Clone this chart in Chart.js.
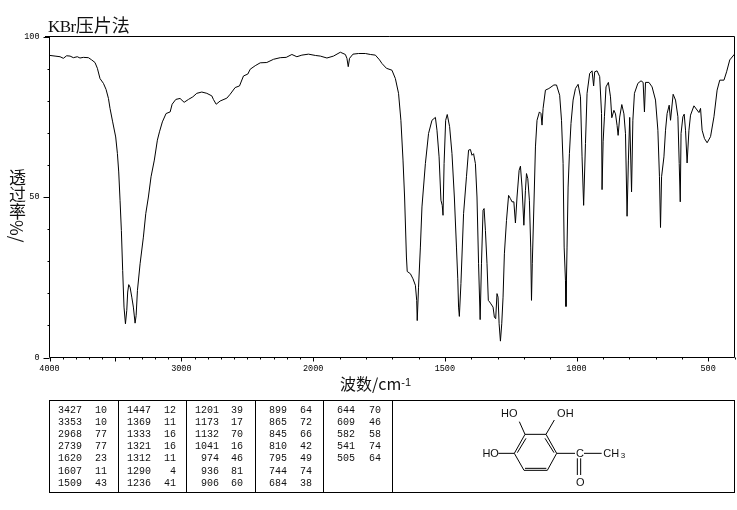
<!DOCTYPE html>
<html><head><meta charset="utf-8">
<script src="https://cdn.jsdelivr.net/npm/chart.js@4"></script>
<style>
html,body{margin:0;padding:0;background:#fff;overflow:hidden}
#wrap{position:relative;width:737px;height:510px}
canvas{position:absolute;left:0;top:0}
svg{position:absolute;left:0;top:0}
.t{position:absolute;color:#111;white-space:nowrap;line-height:1;font-family:"Liberation Serif","Noto Sans CJK SC",serif}
</style></head><body>
<div id="wrap">
<canvas id="c" width="737" height="510"></canvas>
<div class="t" style="left:48px;top:15px;font-size:17px;letter-spacing:-.5px">KBr<span style="font-size:18px;letter-spacing:0;font-family:'Noto Sans CJK SC'">压片法</span></div>
<div class="t" style="left:340px;top:375px;font-size:16px;font-family:'Noto Sans CJK SC'">波数/cm<span style="font-size:11px;position:relative;top:-4px;font-family:'Liberation Sans'">-1</span></div>
<div class="t" style="left:9px;top:169px;font-size:17px;writing-mode:vertical-rl;font-family:'Noto Sans CJK SC'">透过率%/</div>
<svg id="s" width="737" height="510"></svg>
</div>
<script>
const wavenumbers=[3996,3958,3920,3895,3870,3844,3819,3789,3769,3743,3705,3680,3655,3637,3617,3591,3571,3553,3541,3521,3498,3485,3475,3465,3455,3445,3435,3424,3414,3407,3399,3389,3376,3364,3351,3343,3333,3313,3288,3270,3250,3230,3205,3182,3166,3144,3116,3085,3070,3042,3010,2979,2946,2913,2883,2845,2807,2769,2757,2736,2706,2655,2630,2592,2559,2529,2496,2478,2440,2402,2352,2301,2250,2205,2162,2124,2086,2036,1992,1973,1948,1923,1897,1878,1872,1867,1862,1849,1828,1802,1783,1764,1748,1739,1722,1701,1688,1676,1667,1659,1653,1646,1643,1631,1621,1612,1607,1605,1600,1593,1587,1574,1562,1549,1536,1530,1522,1515,1510,1507,1503,1497,1491,1482,1473,1464,1456,1451,1448,1445,1439,1429,1418,1410,1403,1397,1391,1384,1378,1372,1366,1361,1355,1351,1346,1340,1335,1330,1325,1317,1312,1307,1302,1298,1294,1289,1284,1279,1274,1266,1258,1251,1245,1238,1232,1226,1218,1213,1207,1200,1194,1190,1185,1179,1174,1171,1168,1161,1156,1150,1141,1135,1131,1127,1118,1105,1086,1076,1064,1057,1051,1047,1042,1040,1036,1032,1027,1021,1013,1004,994,985,979,973,966,960,950,941,935,931,922,912,905,903,899,894,888,879,871,866,858,852,846,842,836,828,820,814,808,803,798,791,786,780,767,755,747,742,738,725,713,700,691,685,681,677,668,662,656,648,643,633,624,615,610,606,603,596,591,586,580,573,567,554,535,529,523,514,504,491,478,466,456,440,430,418,400];
const transmittance=[94.1,93.9,93.7,93.2,94.0,93.9,93.4,93.7,93.3,93.5,93.4,92.7,91.9,90.1,86.9,85.4,83.5,80.7,77.6,73.4,68.7,63.5,57.8,49.0,39.6,27.1,15.7,10.5,14.7,20.4,22.7,21.9,18.8,15.7,10.7,13.1,20.9,29.2,37.5,44.8,50.0,56.3,61.5,67.7,70.3,73.4,76.0,76.5,78.9,80.4,80.7,79.5,80.4,81.2,82.3,82.7,82.3,81.5,80.4,78.9,79.9,80.8,82.0,84.1,84.6,87.7,88.3,89.8,90.9,91.8,91.9,92.9,93.4,93.5,94.4,93.7,94.2,94.5,94.1,93.9,93.3,93.9,95.1,94.4,93.2,90.6,93.2,94.5,94.7,94.7,94.4,94.2,92.7,91.6,90.1,89.5,86.9,82.3,73.9,61.5,50.0,31.3,26.8,26.1,24.5,22.5,17.8,11.5,21.9,34.4,46.9,60.4,69.8,73.9,74.8,70.8,62.5,49.0,47.4,44.3,60.4,73.9,75.7,71.9,63.5,50.0,34.4,24.5,15.7,12.8,23.0,44.8,56.3,64.6,64.8,63.0,63.5,60.4,50.0,29.2,11.8,29.2,45.9,46.4,39.6,29.2,17.8,17.3,16.7,15.7,12.6,12.1,19.9,18.8,10.5,5.1,10.5,18.8,32.3,42.7,50.5,49.5,48.5,48.5,41.9,50.0,58.3,59.6,53.1,41.2,52.1,57.3,55.7,49.0,34.4,17.8,29.2,50.0,65.6,73.9,76.5,76.0,72.4,77.6,83.3,83.8,84.9,84.9,81.7,73.9,60.4,34.4,24.0,15.9,34.4,53.1,63.5,72.9,80.2,83.8,85.1,81.2,62.5,47.4,66.7,82.3,88.5,89.3,84.6,89.0,89.3,87.5,76.0,52.3,67.2,75.0,84.3,85.7,81.2,74.7,77.0,75.9,72.3,69.2,74.9,78.8,75.9,69.7,44.0,61.5,74.8,51.6,73.9,82.3,85.4,86.2,85.7,76.5,85.7,85.7,84.3,80.2,70.8,56.3,40.5,56.3,62.5,70.8,76.0,78.6,73.9,82.0,80.2,75.0,60.4,48.5,69.8,75.0,75.8,70.8,60.6,70.8,75.5,78.4,76.3,77.6,70.8,68.2,66.9,68.8,75.0,83.3,86.4,86.4,89.0,92.7,94.5];
const xLabelled=[4000,3000,2000,1500,1000,500];
const yLabelled=[0,50,100];
const peakWn=[[3427,3353,2968,2739,1620,1607,1509],[1447,1369,1333,1321,1312,1290,1236],[1201,1173,1132,1041,974,936,906],[899,865,845,810,795,744,684],[644,609,582,541,505]];
const peakT=[[10,10,77,77,23,11,43],[12,11,16,16,11,4,41],[39,17,70,16,46,81,60],[64,72,66,42,49,74,38],[70,46,58,74,64]];

const xTickValues=[];for(let v=4000;v>=400;v-=100)xTickValues.push(v);
const yTickValues=[];for(let v=0;v<=100;v+=10)yTickValues.push(v);
const BREAK=0.385;
class IRScale extends Chart.LinearScale{
  static id='irAxis';
  static defaults=Chart.LinearScale.defaults;
  getPixelForValue(v){
    const W=this.right-this.left;
    return v>=2000?this.left+(4000-v)/2000*BREAK*W:this.left+BREAK*W+(2000-v)/1600*(1-BREAK)*W;
  }
  getValueForPixel(p){
    const W=this.right-this.left,f=(p-this.left)/W;
    return f<=BREAK?4000-f/BREAK*2000:2000-(f-BREAK)/(1-BREAK)*1600;
  }
}
Chart.register(IRScale);
const frame={id:'frame',afterDraw(ch){
  const g=ch.ctx,a=ch.chartArea,X=ch.scales.x,Y=ch.scales.y;
  g.save();g.strokeStyle='#000';g.lineWidth=1;g.beginPath();
  const L=Math.floor(a.left)+.5,B=Math.floor(a.bottom)+.5,T=Math.floor(a.top)+.5,R=Math.floor(a.right)+.5;
  g.moveTo(45,T);g.lineTo(R,T);g.lineTo(R,B);g.lineTo(L,B);g.lineTo(L,T);
  xTickValues.forEach(v=>{const p=Math.round(X.getPixelForValue(v))+.5;const l=(xLabelled.includes(v)||v===3500)?4:2;g.moveTo(p,B);g.lineTo(p,B+l);});
  yTickValues.forEach(v=>{const p=Math.round(Y.getPixelForValue(v))+.5;const l=yLabelled.includes(v)?6:2;g.moveTo(L,p);g.lineTo(L-l,p);});
  g.stroke();g.restore();
}};
new Chart(document.getElementById('c'),{
  type:'line',
  data:{datasets:[{data:wavenumbers.map((x,i)=>({x,y:transmittance[i]})),borderColor:'#000',borderWidth:1,pointRadius:0,tension:0,fill:false,parsing:false}]},
  options:{
    responsive:false,animation:false,devicePixelRatio:1,
    layout:{padding:{left:0,right:2.5,top:36.5,bottom:0}},
    plugins:{legend:{display:false},tooltip:{enabled:false},title:{display:false}},
    scales:{
      x:{type:'irAxis',min:400,max:4000,
        afterBuildTicks(s){s.ticks=xTickValues.map(value=>({value}));},
        afterFit(s){s.height=152.5;s.paddingRight=0;s.paddingLeft=0;},
        grid:{display:false,drawTicks:false},border:{display:false},
        ticks:{autoSkip:false,maxRotation:0,minRotation:0,padding:6,color:'#000',font:{family:'Liberation Mono',size:8.5},
          callback:v=>xLabelled.includes(v)?String(v):''}},
      y:{type:'linear',min:0,max:100,
        afterBuildTicks(s){s.ticks=yTickValues.map(value=>({value}));},
        afterFit(s){s.width=49.5;},
        grid:{display:false,drawTicks:false},border:{display:false},
        ticks:{autoSkip:false,padding:10,color:'#000',font:{family:'Liberation Mono',size:8.5},
          callback:v=>yLabelled.includes(v)?String(v):''}}
    }
  },
  plugins:[frame]
});

/* peak table and structure */
const svg=document.getElementById('s'),NS='http://www.w3.org/2000/svg';
function line(x1,y1,x2,y2,w){const e=document.createElementNS(NS,'line');e.setAttribute('x1',x1);e.setAttribute('y1',y1);e.setAttribute('x2',x2);e.setAttribute('y2',y2);e.setAttribute('stroke','#000');e.setAttribute('stroke-width',w||1);svg.appendChild(e);}
function text(x,y,s,size,anchor,fam){const e=document.createElementNS(NS,'text');e.setAttribute('x',x);e.setAttribute('y',y);e.setAttribute('font-size',size);e.setAttribute('font-family',fam||'Liberation Mono');e.setAttribute('text-anchor',anchor||'end');e.setAttribute('dominant-baseline','central');e.setAttribute('fill','#111');e.textContent=s;svg.appendChild(e);}
[400.5,492.5].forEach(y=>line(49,y,735,y));
[49.5,118.5,186.5,255.5,323.5,392.5,734.5].forEach(x=>line(x,400,x,493));
const rowY=[410,422,434,446,458,471,483];
const colA=[82,151,219,287,355],colB=[107,176,243,312,381];
peakWn.forEach((col,c)=>col.forEach((w,r)=>{text(colA[c],rowY[r],String(w),10);text(colB[c],rowY[r],String(peakT[c][r]),10);}));
const mx=z=>460+z/3,my=z=>395+z/3;
const bonds=[[195,118,258,118],[258,118,290,175],[290,175,262,226],[262,226,192,226],[192,226,163,175],[163,175,195,118],[198,130,172,173],[255,130,282,173],[195,220,259,220],[178,80,195,118],[283,75,258,118],[115,175,163,175],[290,175,345,175],[372,175,425,175],[352,190,352,240],[362,190,362,240]];
bonds.forEach(b=>line(mx(b[0]),my(b[1]),mx(b[2]),my(b[3]),1));
[[148,55,'HO'],[316,55,'OH'],[92,174,'HO'],[360,174,'C'],[361,260,'O']].forEach(l=>text(mx(l[0]),my(l[1]),l[2],11,'middle','Liberation Sans'));
text(mx(430),my(174),'CH',11,'start','Liberation Sans');
text(mx(482),my(181),'3',8,'start','Liberation Sans');
</script>
</body></html>
